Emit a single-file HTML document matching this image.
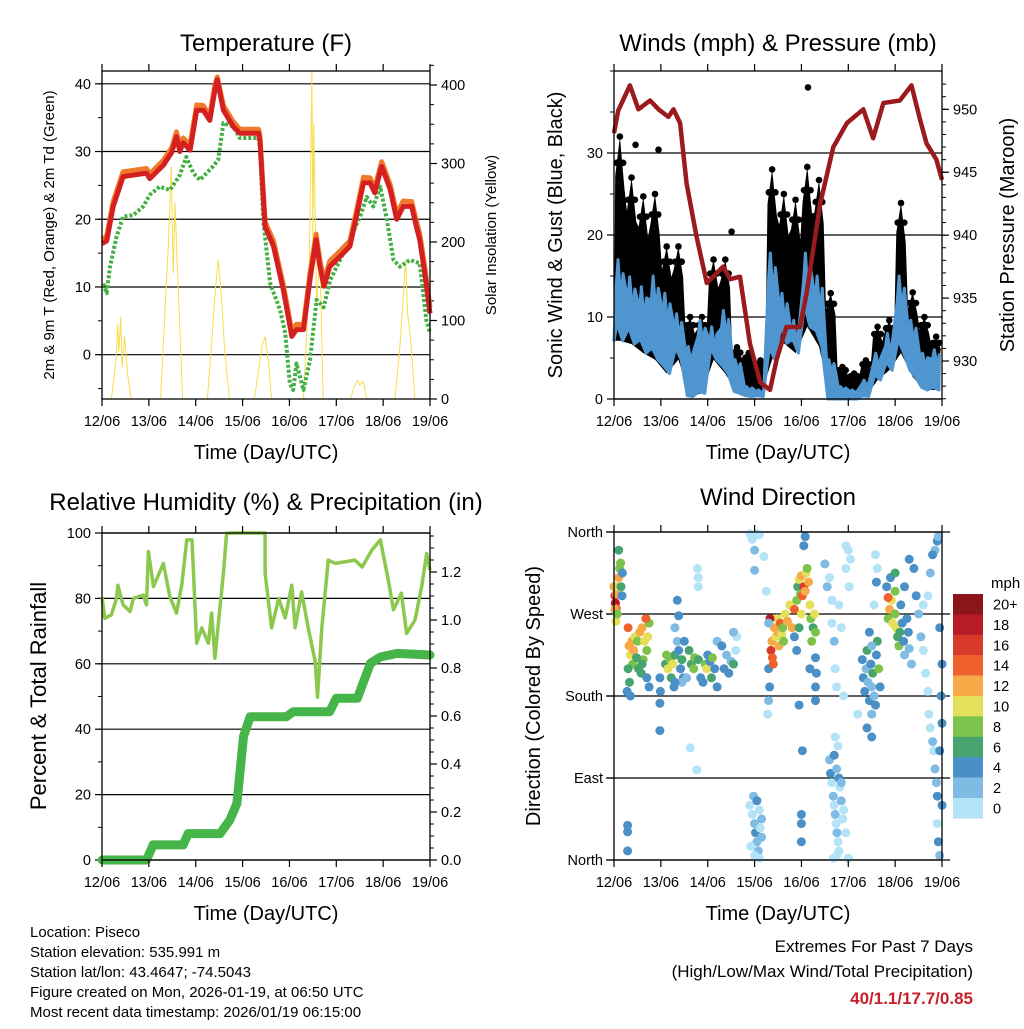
<!DOCTYPE html>
<html><head><meta charset="utf-8"><title>Piseco station meteogram</title>
<style>
html,body{margin:0;padding:0;background:#fff;}
body{width:1024px;height:1024px;overflow:hidden;font-family:"Liberation Sans",Arial,sans-serif;}
svg text{font-family:"Liberation Sans",Arial,sans-serif;fill:#000;}
</style></head>
<body>
<svg id="chart" width="1024" height="1024" viewBox="0 0 1024 1024" xmlns="http://www.w3.org/2000/svg">
<text x="266" y="51" font-size="24" text-anchor="middle">Temperature (F)</text>
<text x="778" y="51" font-size="24" text-anchor="middle">Winds (mph) &amp; Pressure (mb)</text>
<text x="266" y="510" font-size="24" text-anchor="middle">Relative Humidity (%) &amp; Precipitation (in)</text>
<text x="778" y="505" font-size="24" text-anchor="middle">Wind Direction</text>
<g font-size="15">
<text x="30" y="937">Location: Piseco</text>
<text x="30" y="957">Station elevation: 535.991 m</text>
<text x="30" y="977">Station lat/lon: 43.4647; -74.5043</text>
<text x="30" y="997">Figure created on Mon, 2026-01-19, at 06:50 UTC</text>
<text x="30" y="1017">Most recent data timestamp: 2026/01/19 06:15:00</text>
</g>
<text x="973" y="952" font-size="17" text-anchor="end">Extremes For Past 7 Days</text>
<text x="973" y="977" font-size="17" text-anchor="end">(High/Low/Max Wind/Total Precipitation)</text>
<text x="973" y="1004" font-size="17" font-weight="bold" text-anchor="end" style="fill:#c8202a">40/1.1/17.7/0.85</text>
</svg>
<script>
// ---------- DATA ----------
const dayLabels = ["12/06","13/06","14/06","15/06","16/06","17/06","18/06","19/06"];
const tempTicks = [0,10,20,30,40];
const solarTicks = [0,100,200,300,400];
const windTicks = [0,10,20,30];
const presTicks = [930,935,940,945,950];
const rhTicks = [0,20,40,60,80,100];
const precipTicks = ["0.0","0.2","0.4","0.6","0.8","1.0","1.2"];
const dirLabels = ["North","West","South","East","North"];
const speedLevels = ["20+","18","16","14","12","10","8","6","4","2","0"];
const speedColors = ["#8c1519","#b71c24","#d93a2b","#ef622d","#f5a947","#e5e05a","#7dc24a","#48a46e","#4a8fc6","#7fbbe3","#b3e3f7"];

const tempDays = [0,0.1,0.24,0.45,0.95,1.02,1.31,1.49,1.59,1.66,1.73,1.88,2.02,2.16,2.3,2.41,2.46,2.59,2.8,2.94,3.34,3.37,3.48,3.66,3.87,4.05,4.15,4.3,4.44,4.57,4.65,4.74,4.86,5.08,5.29,5.43,5.58,5.72,5.82,5.97,6.15,6.29,6.43,6.61,6.71,6.78,6.89,7.0];
const tempRed = [16.4,16.8,21.9,26.3,26.8,26,28,29.9,32.2,30,31.3,30.2,36.1,36.1,34.6,39.1,40.6,36.1,33.7,32.7,32.7,31.7,18.9,16,9.6,2.7,3.7,3.7,11.1,17,13,10.1,13,14.5,16,20.4,25.4,25.4,23.9,27.8,24.4,20,21.9,21.9,18.9,17,12,6.1];
const tempOrange = [17,17.5,22.6,27,27.5,26.7,28.7,30.6,32.9,30.8,32,31,36.9,36.8,35.3,39.8,41,36.8,34.4,33.3,33.3,32.4,19.6,16.8,10.3,3.5,4.5,4.4,12,17.8,13.9,10.9,13.8,15.3,16.8,21.2,26.2,26.1,24.6,28.5,25.1,20.8,22.7,22.6,19.7,17.9,12.9,7];
const dewDays = [0.03,0.1,0.17,0.31,0.45,0.67,0.88,1.02,1.23,1.45,1.66,1.8,1.95,2.09,2.37,2.48,2.59,2.8,2.94,3.34,3.37,3.44,3.59,3.8,3.91,4.01,4.08,4.15,4.3,4.44,4.58,4.73,4.87,5.22,5.51,5.65,5.79,5.94,6.08,6.22,6.36,6.57,6.78,6.92,7.0];
const dewVals = [10.5,9.1,13,17.4,20.4,20.6,21.9,23.6,24.8,24.3,26.5,29.2,26.8,25.8,27.8,28.8,34.2,33.7,32,32,30.7,19.9,10.5,6.6,3.2,-4.3,-5.2,-1.3,-5.2,-0.8,8.1,7,11,16,20.4,23.3,21.9,24.8,19.9,14,13,14,13.5,5.1,3.2];
const solarDays = [0.2,0.3,0.33,0.36,0.4,0.43,0.48,0.55,0.62,1.25,1.35,1.42,1.48,1.52,1.56,1.6,1.66,1.72,2.25,2.35,2.42,2.48,2.55,2.62,2.72,3.25,3.35,3.42,3.48,3.55,3.62,4.3,4.42,4.48,4.5,4.52,4.58,4.65,4.72,5.3,5.38,5.45,5.5,5.58,5.65,6.25,6.35,6.42,6.48,6.52,6.58,6.68];
const solarVals = [0,50,95,60,105,40,80,30,0,0,120,200,296,160,250,180,90,0,0,80,140,177,130,60,0,0,40,70,79,50,0,0,150,416,200,350,120,180,0,0,15,24,18,22,0,0,60,120,177,110,80,0];

const windBinDays = [0.125,0.375,0.625,0.875,1.125,1.375,1.625,1.875,2.125,2.375,2.625,2.875,3.125,3.375,3.625,3.875,4.125,4.375,4.625,4.875,5.125,5.375,5.625,5.875,6.125,6.375,6.625,6.875];
const windLo = [7.1,6.7,5.6,4.8,3.1,4.8,0.3,0.7,4.8,3.1,0.7,0.3,0.3,4.8,6.8,5.6,8.8,6.4,0,0,0,0.3,2.3,3.5,5.6,2.7,1.1,1.1];
const windHi = [17,14.9,13.7,15,12.9,10.4,6.4,9.6,8.8,10.8,4.8,1.5,1.1,17.8,12.9,9.6,17.8,15,4.8,1.5,1.1,2.3,5.6,8,15,9.6,5.6,6];
const gustHi = [32,27,24.7,25,18.6,18.6,10,10,17,17,6.3,5.6,4.7,28,25,24.3,28.3,26.7,12.9,3.9,3.1,4.7,8.8,9.6,23.9,13,10,7.6];
const gustOutDays = [0.46,0.95,2.51,4.14];
const gustOutVals = [31,30.4,20.4,38];
const presDays = [0,0.09,0.34,0.52,0.77,0.95,1.16,1.27,1.41,1.55,1.76,1.98,2.33,2.48,2.69,2.9,3.12,3.33,3.47,3.68,3.97,4.11,4.4,4.68,4.97,5.32,5.53,5.75,6.1,6.35,6.53,6.67,6.88,7.0];
const presVals = [948.1,949.9,951.9,950,950.7,950,949.4,950,948.9,944.1,939.9,936.2,937.5,936.5,936.7,931.4,928.3,927.7,930.1,932.7,932.7,935.4,942.5,947,948.9,950,947.7,950.5,950.7,951.9,949.2,947.3,946,944.4];

const rhDays = [0,0.06,0.2,0.31,0.34,0.45,0.6,0.67,0.88,0.95,0.99,1.1,1.31,1.45,1.59,1.7,1.81,1.92,2.02,2.13,2.27,2.34,2.41,2.59,2.66,2.8,3.12,3.48,3.48,3.62,3.77,3.91,4.05,4.12,4.26,4.4,4.55,4.6,4.69,4.83,4.98,5.4,5.55,5.76,5.94,6.11,6.22,6.39,6.5,6.68,6.82,6.93,7.0];
const rhVals = [80.5,73.9,75,80,84,78,76,80,81,78,94.3,83.6,90.7,80.5,75.5,84,97.9,97.9,66.3,71,66.3,75.5,61.7,87.7,99.9,100,100,100,87.7,71,80,74,84,71,82,71,60.7,49.8,71,91.7,90.7,91.7,89.6,94.8,97.9,85.6,76.5,81.6,69.3,73.4,83.5,93.7,88.6];
const precipDays = [0,0.95,1.09,1.73,1.84,2.52,2.73,2.88,3.02,3.16,3.94,4.08,4.86,5.0,5.45,5.73,5.94,6.3,7.0];
const precipVals = [0,0,0.063,0.063,0.11,0.11,0.167,0.236,0.514,0.597,0.597,0.618,0.618,0.674,0.674,0.82,0.846,0.861,0.854];

// wind direction points: day, direction (deg), speed (mph)
const dirDays = [], dirVals = [], dirSpeeds = [];
const dirPoints = [
[0,300,12],[0.02,290,16],[0.03,282,18],[0.05,276,14],[0.06,292,12],[0.08,300,10],[0.1,310,12],[0.12,320,8],[0.14,326,8],[0.15,300,6],[0.17,290,4],[0.18,315,4],[0.1,340,7],[0.04,262,10],[0.02,275,12],[0.07,270,8],[0.29,38,4],[0.29,31,4],[0.29,10,4],
[0.3,255,14],[0.32,235,12],[0.35,225,10],[0.38,240,12],[0.42,230,12],[0.45,245,10],[0.4,215,8],[0.3,210,6],[0.33,195,6],[0.28,185,4],[0.5,240,8],[0.55,250,12],[0.6,255,12],[0.65,240,10],[0.7,230,8],[0.72,245,10],[0.75,260,8],[0.68,265,14],[0.62,220,8],[0.58,205,6],[0.7,200,4],[0.75,190,4],[0.6,215,6],[0.48,222,6],[0.52,210,6],[0.35,180,4],
[0.98,200,4],[0.99,185,4],[0.98,172,4],[0.98,142,4],[1.1,215,6],[1.12,225,8],[1.15,210,10],[1.2,220,8],[1.22,200,6],[1.25,215,10],[1.28,190,4],[1.3,225,6],[1.35,240,2],[1.38,230,4],[1.42,210,4],[1.45,220,6],[1.48,200,4],[1.3,255,2],[1.38,268,4],[1.35,285,4],[1.45,195,2],[1.55,200,2],[1.5,240,4],[1.6,230,6],[1.65,215,6],[1.7,210,8],[1.72,222,8],[1.8,220,6],[1.85,200,4],[1.9,195,4],[1.95,215,8],[1.98,210,10],[2.0,225,4],[2.05,218,4],[2.08,200,6],[1.3,195,4],[2.1,222,8],[2.15,210,4],[2.2,190,4],
[1.8,310,0],[1.8,300,0],[1.78,320,0],[1.63,123,0],[1.77,99,0],
[2.2,240,2],[2.3,235,4],[2.35,210,4],[2.4,225,2],[2.45,205,4],[2.5,218,2],[2.55,215,6],[2.6,230,0],[2.62,245,0],[2.55,250,2],
[2.9,358,0],[2.95,352,0],[3.0,340,2],[3.05,358,0],[3.1,357,0],[3.0,318,2],[3.2,333,0],
[2.9,60,0],[2.95,50,0],[3.0,40,2],[3.02,30,4],[3.05,20,2],[3.08,10,2],[3.1,55,0],[3.12,35,0],[3.15,25,2],[2.92,15,0],[3.0,5,0],[3.1,2,0],[2.98,70,2],[3.15,45,2],[3.05,65,4],
[3.3,210,4],[3.32,190,4],[3.35,230,16],[3.37,240,12],[3.38,222,14],[3.42,255,12],[3.45,245,10],[3.48,265,10],[3.5,250,12],[3.52,235,12],[3.55,260,14],[3.58,248,10],[3.6,255,8],[3.62,240,8],[3.4,215,14],[3.33,265,18],[3.3,175,2],[3.28,160,0],[3.25,295,0],[3.3,260,2],
[3.65,270,10],[3.7,262,12],[3.75,280,10],[3.8,255,12],[3.85,275,14],[3.9,285,8],[3.92,300,6],[3.95,308,10],[3.98,292,8],[4.0,312,12],[4.02,290,14],[4.05,300,16],[4.08,295,12],[4.1,315,10],[4.12,320,8],[4.0,270,10],[3.95,255,6],[3.85,245,4],[3.9,230,4],[4.15,305,12],[4.18,280,10],[4.2,265,8],[4.22,240,8],[4.25,255,6],[4.28,270,10],[4.3,250,8],[4.3,222,4],[4.32,205,4],[4.3,190,4],[4.3,175,4],[4.05,345,4],[4.08,355,4],[4.02,120,4],[4.0,50,4],[4.0,40,4],[4.0,20,4],[3.95,170,4],[4.18,210,4],
[4.5,325,2],[4.55,300,2],[4.6,310,0],[4.65,285,0],[4.65,260,0],[4.7,240,2],[4.72,210,0],[4.75,190,0],[4.8,280,0],[4.85,255,0],[4.9,180,0],[4.95,320,0],[4.95,345,0],[5.0,340,0],[5.02,300,0],[5.05,330,0],
[4.6,110,2],[4.62,95,4],[4.65,85,0],[4.68,70,2],[4.7,60,0],[4.72,50,2],[4.74,40,0],[4.76,30,2],[4.78,20,0],[4.8,10,0],[4.82,80,0],[4.85,65,2],[4.88,45,0],[4.7,115,4],[4.75,100,2],[4.8,90,4],[4.85,85,2],[4.9,55,0],[4.95,30,0],[4.78,125,0],[4.72,135,0],[4.68,2,0],[4.76,5,0],[5.0,2,0],
[5.3,220,4],[5.32,200,4],[5.35,185,4],[5.38,210,2],[5.4,230,6],[5.42,195,2],[5.45,175,4],[5.48,215,4],[5.5,190,2],[5.52,205,6],[5.55,180,2],[5.58,170,4],[5.6,225,4],[5.62,240,6],[5.65,210,8],[5.68,190,4],[5.5,160,2],[5.4,145,4],[5.5,135,4],[5.2,160,0],[5.45,250,4],[5.5,235,2],[5.55,280,0],[5.58,335,0],[5.6,305,4],[5.62,320,0],
[5.85,265,8],[5.88,275,12],[5.92,285,10],[5.95,260,10],[6.0,270,8],[6.02,255,10],[6.05,245,6],[6.08,235,8],[6.1,250,6],[5.82,300,4],[5.85,288,14],[5.9,310,4],[6.0,315,6],[6.0,295,8],[6.12,280,4],[6.15,260,4],[6.18,240,4],[6.2,225,2],[6.2,300,4],[6.25,265,4],[6.28,250,4],[6.3,232,2],[6.35,215,2],[6.3,330,4],[6.4,320,4],[6.45,290,4],[6.5,270,2],
[6.55,245,2],[6.6,230,0],[6.65,205,0],[6.7,185,0],[6.72,160,0],[6.75,145,0],[6.8,130,2],[6.82,120,0],[6.85,100,2],[6.88,85,2],[6.9,70,4],[6.9,40,0],[6.92,20,4],[6.95,5,2],[6.95,120,4],[6.98,180,4],[6.9,350,4],[6.85,340,2],[6.92,355,2],[6.8,335,4],[6.95,255,4],[7.0,215,4],[7.0,150,4],[7.0,60,4],[6.75,315,2],[6.7,290,0],[6.6,280,0]
];
dirPoints.forEach(p => { dirDays.push(p[0]); dirVals.push(p[1]); dirSpeeds.push(p[2]); });

// ---------- DRAWING ----------
const NS = "http://www.w3.org/2000/svg";
const svg = document.getElementById("chart");
function mk(tag, attrs, parent) {
  const e = document.createElementNS(NS, tag);
  for (const k in attrs) e.setAttribute(k, attrs[k]);
  (parent || svg).appendChild(e);
  return e;
}
function lin(d0, d1, r0, r1) { return v => r0 + (v - d0) * (r1 - r0) / (d1 - d0); }
function pathFrom(xs, ys, fx, fy) { return xs.map((x, i) => (i ? "L" : "M") + fx(x).toFixed(1) + " " + fy(ys[i]).toFixed(1)).join(""); }

function panelFrame(g, L, R, T, B, fx) {
  const f = mk("rect", {x: L, y: T, width: R - L, height: B - T, fill: "none", stroke: "#000", "stroke-width": 1.3}, g);
  
  
  dayLabels.forEach((lab, i) => {
    const x = fx(i);
    const tb = mk("line", {x1: x, x2: x, y1: B, y2: B + 7, stroke: "#000", "stroke-width": 1.2}, g);
    
    
    const tt = mk("line", {x1: x, x2: x, y1: T, y2: T - 7, stroke: "#000", "stroke-width": 1.2}, g);
    
    
    const t = mk("text", {x: x, y: B + 27, "font-size": 14.5, "text-anchor": "middle"}, g);
    t.textContent = lab;
    
    
  });
  const xt = mk("text", {x: (L + R) / 2, y: B + 60, "font-size": 20, "text-anchor": "middle"}, g);
  xt.textContent = "Time (Day/UTC)";
  
  
}
function yAxis(g, ticks, labels, fy, x, side, grid, L, R, gx0, gx1, minorStep, dmin, dmax) {
  if (minorStep) {
    for (let v = dmin; v <= dmax + 1e-9; v += minorStep) {
      const y = fy(v);
      const m = mk("line", {x1: x, x2: x + side * 4, y1: y, y2: y, stroke: "#000", "stroke-width": 1}, g);
      
      
    }
  }
  ticks.forEach((v, i) => {
    const y = fy(v);
    if (grid) {
      const gl = mk("line", {x1: gx0, x2: gx1, y1: y, y2: y, stroke: "#000", "stroke-width": 1.2}, g);
      
      
    }
    const tk = mk("line", {x1: x, x2: x + side * 7, y1: y, y2: y, stroke: "#000", "stroke-width": 1.2}, g);
    
    
    const t = mk("text", {x: x + side * 11, y: y + 5, "font-size": 14.5, "text-anchor": side < 0 ? "end" : "start"}, g);
    t.textContent = labels[i];
    
    
  });
}
function yTitle(g, text, x, y, size, name) {
  const t = mk("text", {x: x, y: y, "font-size": size, "text-anchor": "middle", transform: "rotate(-90 " + x + " " + y + ")"}, g);
  t.textContent = text;
  
  
}

// ===== Panel 1: Temperature =====
(function () {
  const L = 102, R = 430, T = 71, B = 399;
  const g = mk("g", {});
  
  
  const fx = lin(0, 7, L, R), fy = lin(0, 40, 354.7, 83.8), fs = lin(0, 400, 399, 85);
  yAxis(g, tempTicks, tempTicks.map(String), fy, L, -1, true, L, R, L, R, 5, -5, 40);
  yAxis(g, solarTicks, solarTicks.map(String), fs, R, 1, false, L, R, 0, 0, 25, 0, 425);
  const sol = mk("path", {d: pathFrom(solarDays, solarVals, fx, fs), fill: "none", stroke: "#f8dc4a", "stroke-width": 1}, g);
  
  
  const dew = mk("path", {d: pathFrom(dewDays, dewVals, fx, fy), fill: "none", stroke: "#44b044", "stroke-width": 4, "stroke-dasharray": "3 2", "stroke-linejoin": "round"}, g);
  
  
  const or = mk("path", {d: pathFrom(tempDays, tempOrange, fx, fy), fill: "none", stroke: "#f07a2a", "stroke-width": 5, "stroke-linejoin": "round"}, g);
  
  
  const rd = mk("path", {d: pathFrom(tempDays, tempRed, fx, fy), fill: "none", stroke: "#d42020", "stroke-width": 5, "stroke-linejoin": "round"}, g);
  
  
  panelFrame(g, L, R, T, B, fx);
  yTitle(g, "2m & 9m T (Red, Orange) & 2m Td (Green)", 54, 235, 15, "temperature-y-axis-title");
  yTitle(g, "Solar Insolation (Yellow)", 496, 235, 15, "solar-y-axis-title");
})();

// ===== Panel 2: Winds & Pressure =====
(function () {
  const L = 614, R = 942, T = 71, B = 399;
  const g = mk("g", {});
  
  
  const fx = lin(0, 7, L, R), fy = lin(0, 30, 399, 153), fp = lin(930, 950, 361, 109.3);
  yAxis(g, windTicks, windTicks.map(String), fy, L, -1, true, L, R, L, R, 5, 0, 40);
  yAxis(g, presTicks, presTicks.map(String), fp, R, 1, false, L, R, 0, 0, 1, 927, 952);
  const fyc = v => Math.min(B, fy(v));
  let d = "M" + fx(0) + " " + fyc(windLo[0]);
  windBinDays.forEach((t, i) => { d += "L" + fx(t - 0.1).toFixed(1) + " " + fyc(gustHi[i] * 0.85).toFixed(1) + "L" + fx(t).toFixed(1) + " " + fyc(gustHi[i]).toFixed(1) + "L" + fx(t + 0.1).toFixed(1) + " " + fyc(gustHi[i] * 0.8).toFixed(1); });
  for (let i = windBinDays.length - 1; i >= 0; i--) d += "L" + fx(windBinDays[i]).toFixed(1) + " " + fyc(windLo[i]).toFixed(1);
  const ga = mk("path", {d: d + "Z", fill: "#000"}, g);
  
  
  windBinDays.forEach((t, i) => {
    [-0.07, 0, 0.07].forEach(o => {
      const c = mk("circle", {cx: fx(t + o), cy: fyc(gustHi[i] * (o === 0 ? 1 : 0.9)), r: 3.3, fill: "#000"}, g);
      
      
    });
  });
  gustOutDays.forEach((t, i) => {
    const c = mk("circle", {cx: fx(t), cy: fy(gustOutVals[i]), r: 3.3, fill: "#000"}, g);
    
    
  });
  let b = "M" + fx(0) + " " + fyc(windLo[0]);
  windBinDays.forEach((t, i) => { b += "L" + fx(t - 0.08).toFixed(1) + " " + fyc(windHi[i] * 0.8).toFixed(1) + "L" + fx(t - 0.04).toFixed(1) + " " + fyc(windHi[i]).toFixed(1) + "L" + fx(t + 0.02).toFixed(1) + " " + fyc(windHi[i] * 0.7).toFixed(1) + "L" + fx(t + 0.07).toFixed(1) + " " + fyc(windHi[i] * 0.9).toFixed(1); });
  for (let i = windBinDays.length - 1; i >= 0; i--) b += "L" + fx(windBinDays[i] + 0.06).toFixed(1) + " " + fyc(windLo[i]).toFixed(1) + "L" + fx(windBinDays[i] - 0.06).toFixed(1) + " " + fyc(windLo[i] * 1.3).toFixed(1);
  const wa = mk("path", {d: b + "Z", fill: "#4f96d0", stroke: "#4f96d0", "stroke-width": 3, "stroke-linejoin": "round"}, g);
  
  
  const pr = mk("path", {d: pathFrom(presDays, presVals, fx, fp), fill: "none", stroke: "#9b1a1d", "stroke-width": 4.5, "stroke-linejoin": "round"}, g);
  
  
  panelFrame(g, L, R, T, B, fx);
  yTitle(g, "Sonic Wind & Gust (Blue, Black)", 562, 235, 20, "wind-y-axis-title");
  yTitle(g, "Station Pressure (Maroon)", 1014, 235, 20, "pressure-y-axis-title");
})();

// ===== Panel 3: RH & Precip =====
(function () {
  const L = 102, R = 430, T = 533, B = 860;
  const g = mk("g", {});
  
  
  const fx = lin(0, 7, L, R), fy = lin(0, 100, 860, 533), fp = lin(0, 1.2, 860, 572);
  yAxis(g, rhTicks, rhTicks.map(String), fy, L, -1, true, L, R, L, R, 10, 0, 100);
  yAxis(g, precipTicks.map(Number), precipTicks, fp, R, 1, false, L, R, 0, 0, 0.05, 0, 1.35);
  const pl = mk("path", {d: pathFrom(precipDays, precipVals, fx, fp), fill: "none", stroke: "#45b449", "stroke-width": 9, "stroke-linejoin": "round", "stroke-linecap": "round"}, g);
  
  
  const rl = mk("path", {d: pathFrom(rhDays, rhVals, fx, fy), fill: "none", stroke: "#8cc84e", "stroke-width": 3.5, "stroke-linejoin": "round"}, g);
  
  
  panelFrame(g, L, R, T, B, fx);
  yTitle(g, "Percent & Total Rainfall", 46, 696, 22, "humidity-y-axis-title");
})();

// ===== Panel 4: Wind direction =====
(function () {
  const L = 614, R = 942, T = 532, B = 860;
  const g = mk("g", {});
  
  
  const fx = lin(0, 7, L, R), fy = lin(0, 360, 860, 532);
  const dirTickVals = [360, 270, 180, 90, 0];
  yAxis(g, dirTickVals, dirLabels, fy, L, -1, true, L, R, 606, 950, 0, 0, 0);
  dirDays.forEach((t, i) => {
    const s = dirSpeeds[i];
    const idx = Math.max(0, Math.min(10, 10 - Math.floor(s / 2)));
    const c = mk("circle", {cx: fx(t).toFixed(1), cy: fy(dirVals[i]).toFixed(1), r: 4.5, fill: speedColors[idx]}, g);
    
    
  });
  panelFrame(g, L, R, T, B, fx);
  yTitle(g, "Direction (Colored By Speed)", 540, 696, 20, "direction-y-axis-title");
  const mph = mk("text", {x: 991, y: 588, "font-size": 15}, g);
  mph.textContent = "mph";
  
  
  speedLevels.forEach((lab, i) => {
    const y = 594 + i * 20.4;
    const r = mk("rect", {x: 953, y: y, width: 30, height: 20.6, fill: speedColors[i]}, g);
    
    
    const t = mk("text", {x: 993, y: y + 15.5, "font-size": 14.5}, g);
    t.textContent = lab;
    
    
  });
})();
</script>
</body></html>
